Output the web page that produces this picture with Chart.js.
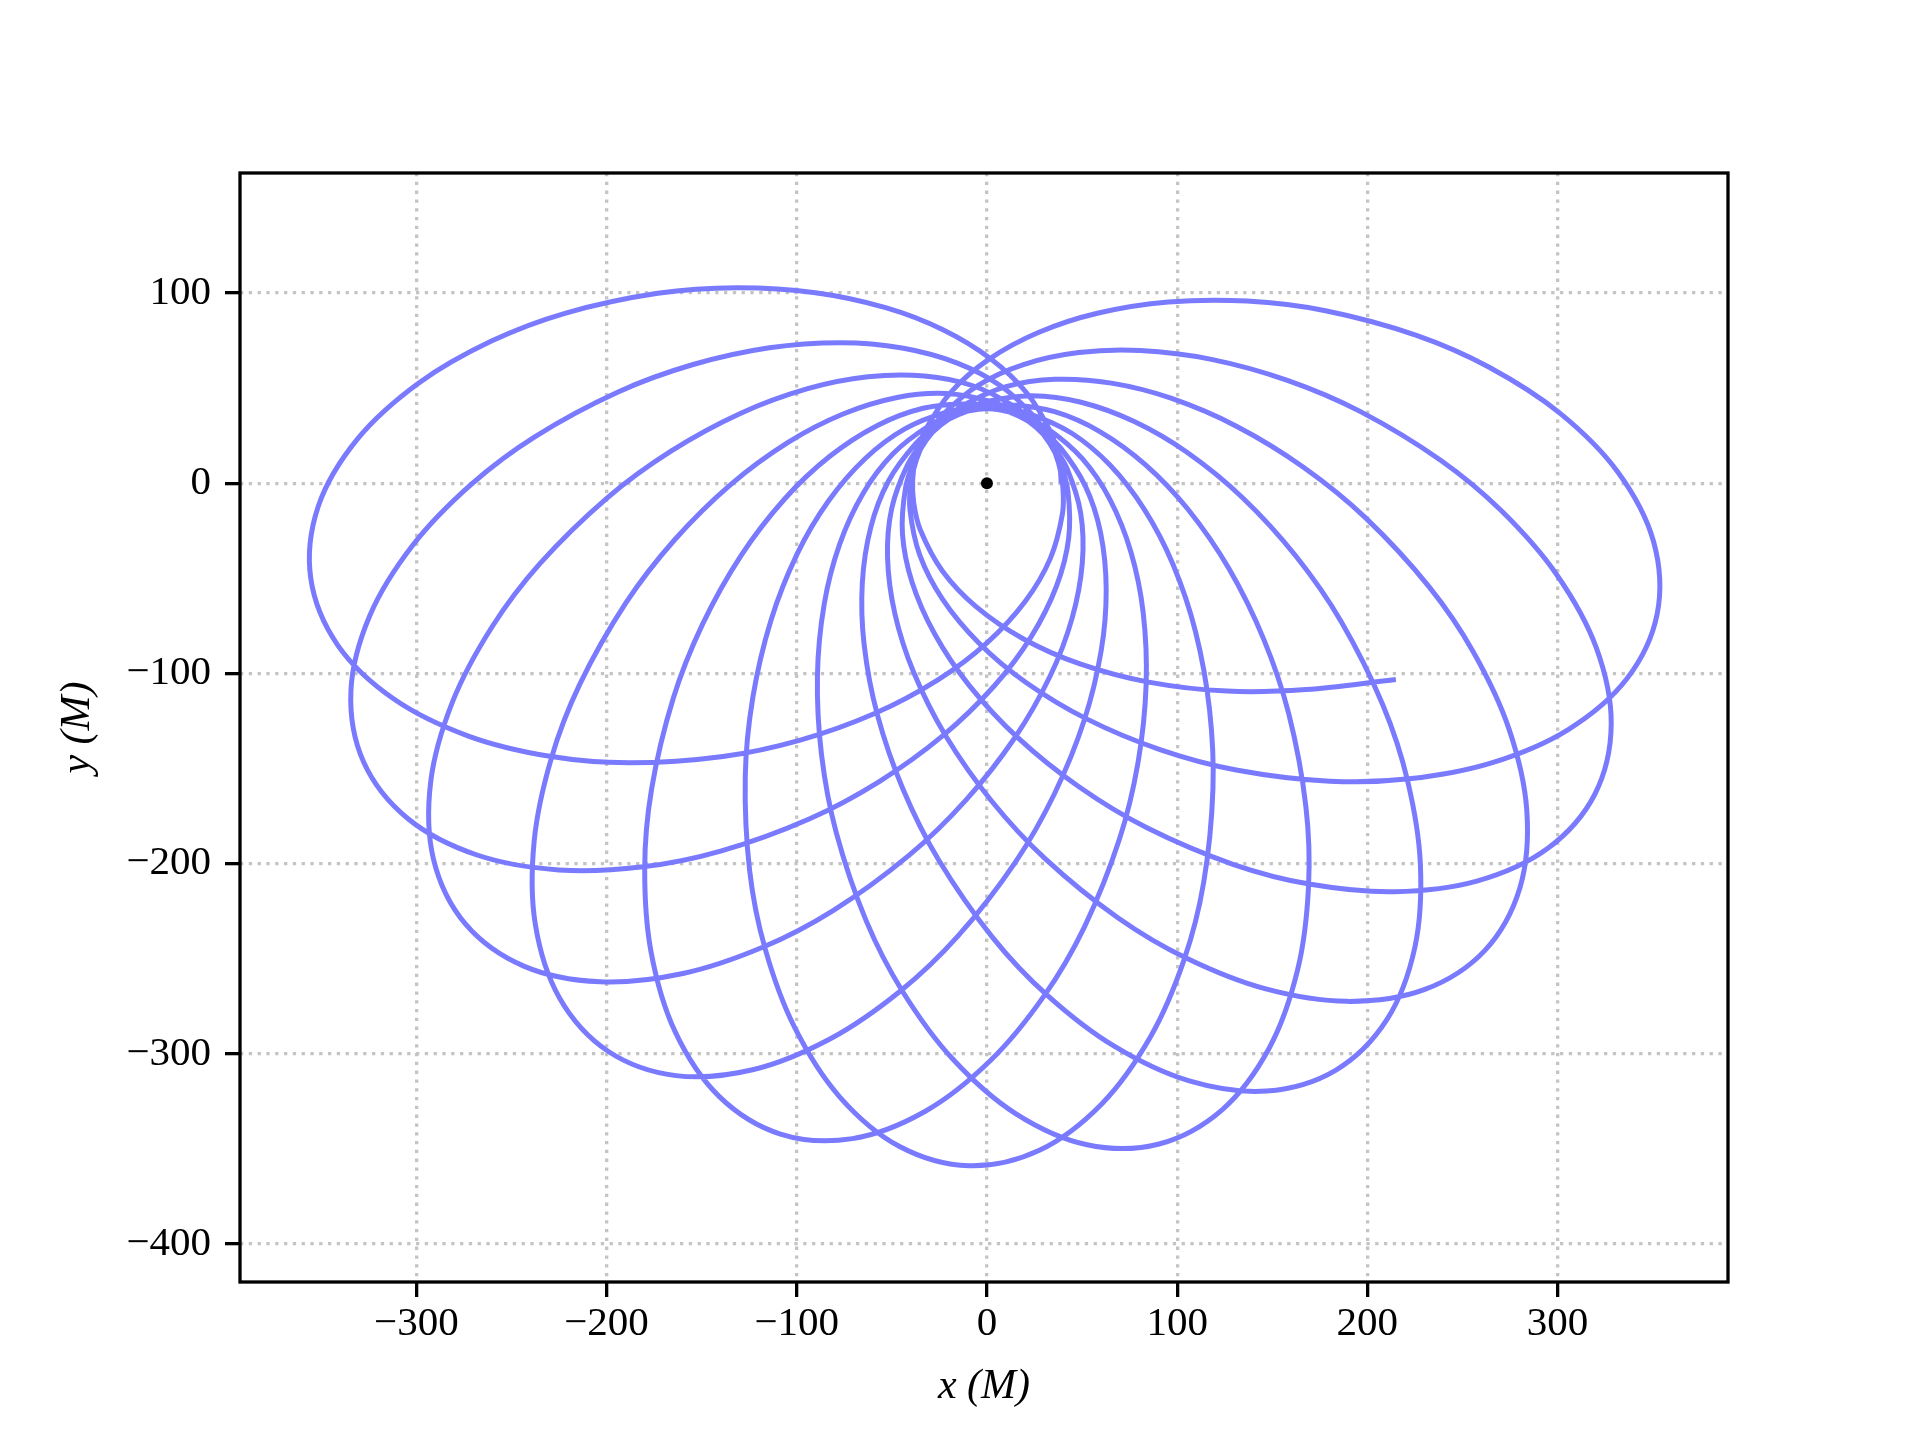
<!DOCTYPE html>
<html>
<head>
<meta charset="utf-8">
<script src="https://cdn.jsdelivr.net/npm/chart.js@4.4.1/dist/chart.umd.min.js"></script>
<style>
html, body { margin: 0; padding: 0; background: #ffffff; }
canvas { display: block; }
</style>
</head>
<body>
<canvas id="orbit" width="1920" height="1440"></canvas>
<script>
// ---- Data (units of M) ----
const xTickValues = [-300, -200, -100, 0, 100, 200, 300];
const yTickValues = [-400, -300, -200, -100, 0, 100];
const xRange = [-392.7, 389.6];
const yRange = [-420.0, 163.1];

const centreMassX = [0];
const centreMassY = [0];

const loop1X = [39.09, 37.94, 33.73, 21.05, 2.27, -23.14, -53.28, -90.18, -131.58, -173.00, -221.42, -260.50, -298.69, -330.99, -351.59, -355.51, -341.35, -311.79, -272.61, -229.82, -188.18, -138.76, -98.14, -59.08, -25.78, 0.00, 20.17, 33.27, 39.69, 39.86];
const loop1Y = [-0.03, 12.33, 26.36, 47.29, 65.23, 80.70, 92.29, 100.14, 102.80, 99.87, 89.46, 74.71, 52.67, 23.14, -12.28, -49.96, -85.10, -113.48, -132.95, -143.61, -147.02, -143.69, -135.08, -121.12, -103.41, -83.96, -62.07, -39.65, -16.04, -1.39];

const loop2X = [37.57, 33.03, 25.10, 7.11, -15.91, -44.61, -76.79, -114.41, -154.92, -193.91, -237.53, -271.00, -301.59, -324.43, -334.39, -327.71, -304.37, -268.09, -225.05, -180.98, -140.03, -93.47, -56.84, -23.17, 3.91, 23.29, 36.59, 42.97, 42.58, 38.69];
const loop2Y = [10.81, 22.37, 34.68, 51.27, 63.31, 71.12, 73.90, 71.21, 62.28, 47.98, 24.54, -0.47, -32.24, -69.55, -109.30, -146.59, -176.43, -195.49, -203.34, -201.71, -193.44, -176.54, -157.00, -132.75, -106.50, -80.66, -54.05, -28.87, -4.40, 9.71];

const loop3X = [33.10, 25.53, 14.49, -7.39, -32.84, -62.58, -94.27, -129.67, -166.12, -199.61, -235.03, -260.24, -280.82, -292.41, -290.96, -274.20, -243.50, -203.37, -159.84, -117.94, -80.89, -40.85, -11.06, 14.55, 33.29, 44.74, 50.14, 49.29, 42.13, 34.47];
const loop3Y = [20.80, 30.64, 40.28, 51.24, 56.41, 55.96, 49.70, 36.69, 16.87, -7.67, -42.29, -75.61, -114.61, -156.79, -197.75, -231.72, -253.91, -262.17, -257.77, -243.99, -224.69, -195.53, -166.61, -133.97, -101.24, -71.04, -41.79, -15.82, 7.58, 20.06];

const loop4X = [26.03, 16.02, 2.76, -21.30, -47.19, -75.65, -104.36, -134.76, -164.29, -189.66, -214.09, -229.07, -238.02, -237.47, -224.72, -199.19, -163.54, -122.69, -82.08, -45.65, -15.41, 14.98, 35.57, 51.14, 60.06, 62.69, 59.77, 51.74, 38.38, 27.56];
const loop4Y = [29.16, 36.53, 42.72, 47.18, 45.10, 36.41, 21.62, -0.71, -29.86, -62.72, -105.81, -144.81, -187.99, -231.75, -270.68, -298.68, -311.48, -308.29, -291.99, -267.13, -238.31, -199.20, -163.14, -124.69, -88.04, -55.85, -26.24, -1.54, 18.96, 28.83];

const loop5X = [16.92, 5.27, -9.20, -33.56, -57.84, -82.78, -106.26, -129.28, -149.56, -164.83, -176.35, -179.93, -176.56, -163.89, -140.84, -108.55, -70.74, -32.39, 2.12, 30.21, 51.27, 69.63, 79.42, 83.70, 82.12, 75.72, 64.70, 50.14, 31.62, 18.49];
const loop5Y = [35.24, 39.54, 41.81, 39.42, 30.24, 14.01, -8.17, -38.05, -74.24, -112.86, -161.04, -202.66, -246.63, -288.51, -322.38, -342.21, -344.62, -330.23, -303.31, -269.32, -233.24, -187.24, -146.88, -105.61, -67.93, -36.27, -8.64, 12.88, 28.87, 35.34];

const loop6X = [6.49, -5.90, -20.43, -43.17, -63.96, -83.42, -99.83, -113.65, -123.11, -127.06, -124.77, -116.67, -101.24, -77.46, -45.92, -9.40, 27.60, 60.46, 86.14, 103.71, 113.95, 118.82, 117.03, 109.71, 97.73, 82.80, 64.56, 44.61, 22.37, 7.96];
const loop6Y = [38.55, 39.45, 37.62, 28.57, 13.01, -9.50, -37.32, -72.41, -112.81, -154.14, -203.61, -244.60, -285.91, -322.63, -348.79, -358.88, -350.71, -326.25, -290.81, -250.38, -209.87, -160.58, -119.09, -78.26, -42.50, -13.86, 9.65, 26.27, 36.50, 39.09];

const loop7X = [-4.46, -16.61, -30.06, -49.39, -65.07, -77.52, -85.56, -89.12, -87.00, -79.33, -63.42, -44.26, -17.99, 15.06, 52.62, 90.50, 123.78, 148.56, 163.41, 169.08, 167.68, 158.69, 145.48, 127.12, 105.68, 83.40, 59.35, 35.57, 11.38, -3.19];
const loop7Y = [38.83, 36.26, 30.47, 15.47, -5.24, -32.26, -63.54, -101.09, -142.53, -183.33, -230.24, -267.37, -302.77, -331.47, -347.85, -347.42, -329.31, -296.69, -255.53, -211.79, -170.04, -121.33, -81.97, -44.77, -13.72, 9.66, 27.16, 37.61, 41.27, 39.76];

const loop8X = [-15.05, -26.01, -37.34, -51.75, -61.05, -65.53, -64.58, -57.59, -44.06, -25.38, 2.92, 31.62, 66.68, 106.39, 147.01, 183.29, 210.25, 225.01, 227.86, 221.18, 208.26, 186.12, 162.50, 134.53, 105.34, 77.45, 49.49, 23.75, -0.52, -14.09];
const loop8Y = [36.08, 30.24, 20.95, 1.18, -23.08, -52.49, -84.78, -121.84, -161.06, -198.14, -238.79, -269.16, -295.89, -314.29, -319.61, -308.69, -282.07, -243.85, -200.19, -156.60, -116.87, -72.56, -38.42, -7.76, 16.12, 32.41, 42.56, 46.00, 42.81, 37.32];

const loop9X = [-24.47, -33.37, -41.68, -50.05, -52.26, -48.40, -38.54, -21.55, 2.33, 30.56, 69.02, 105.01, 146.12, 189.37, 229.87, 261.70, 280.21, 283.81, 274.44, 255.93, 232.50, 198.94, 166.77, 131.41, 96.74, 65.42, 35.74, 10.05, -12.36, -23.89];
const loop9Y = [30.49, 21.84, 9.77, -13.22, -39.10, -68.61, -99.36, -133.03, -166.96, -197.40, -228.61, -249.82, -265.79, -272.45, -266.30, -245.75, -212.70, -171.89, -129.15, -89.12, -54.53, -18.10, 8.16, 29.85, 44.70, 52.61, 54.62, 50.78, 40.99, 31.94];

const loop10X = [-31.96, -38.13, -42.75, -44.42, -39.37, -27.47, -9.47, 16.20, 48.54, 84.11, 129.72, 170.17, 214.10, 257.50, 294.71, 319.59, 328.21, 320.34, 299.48, 270.61, 238.50, 196.15, 157.98, 117.98, 80.55, 48.27, 19.19, -4.42, -23.25, -31.81];
const loop10Y = [22.50, 11.72, -2.17, -26.58, -52.06, -79.33, -106.15, -133.79, -159.76, -181.19, -200.50, -210.91, -214.84, -209.26, -192.11, -163.54, -126.65, -86.44, -47.98, -14.65, 12.08, 37.77, 54.08, 65.13, 69.77, 68.69, 62.38, 51.58, 35.95, 24.06];

const loop11X = [-36.95, -39.88, -40.48, -35.31, -23.39, -4.39, 20.34, 52.66, 90.94, 131.05, 180.23, 221.99, 265.28, 305.43, 336.42, 352.41, 350.46, 331.75, 301.04, 264.05, 225.79, 177.99, 136.78, 95.30, 58.04, 27.33, 1.15, -18.55, -32.30, -37.24];
const loop11Y = [12.76, 0.69, -13.95, -37.86, -60.94, -83.84, -104.62, -124.05, -140.03, -150.76, -156.67, -155.45, -147.04, -129.64, -102.85, -68.50, -30.67, 5.78, 36.96, 60.97, 77.75, 90.68, 95.77, 95.29, 89.38, 79.38, 65.26, 48.32, 28.09, 14.30];

const loop12X = [-39.04, -38.50, -35.02, -23.42, -5.58, 19.02, 48.54, 84.99, 126.21, 167.72, 215.00];
const loop12Y = [2.01, -10.39, -24.63, -46.17, -65.04, -81.77, -94.87, -104.58, -109.32, -108.50, -103.20];

// ---- Build the dataset table from the arrays ----
const loopPairs = [
  [loop1X, loop1Y], [loop2X, loop2Y], [loop3X, loop3Y], [loop4X, loop4Y],
  [loop5X, loop5Y], [loop6X, loop6Y], [loop7X, loop7Y], [loop8X, loop8Y],
  [loop9X, loop9Y], [loop10X, loop10Y], [loop11X, loop11Y], [loop12X, loop12Y]
];
const orbitPoints = [];
loopPairs.forEach(([xs, ys]) => xs.forEach((x, i) => orbitPoints.push({ x: x, y: ys[i] })));
const centrePoints = centreMassX.map((x, i) => ({ x: x, y: centreMassY[i] }));

const fmtTick = v => (v < 0 ? '\u2212' + Math.abs(v) : String(v));
const serif = '"Liberation Serif", "Times New Roman", serif';

const framePlugin = {
  id: 'frame',
  afterDatasetsDraw(chart) {
    const { ctx, chartArea: a } = chart;
    ctx.save();
    ctx.strokeStyle = '#000000';
    ctx.lineWidth = 3.3;
    ctx.strokeRect(a.left, a.top, a.right - a.left, a.bottom - a.top);
    ctx.restore();
  }
};

const gridStyle = {
  color: '#c4c4c4',
  lineWidth: 3.3,
  tickLength: 15,
  tickColor: '#000000',
  tickWidth: 3.3,
  tickBorderDash: []
};

new Chart(document.getElementById('orbit'), {
  type: 'scatter',
  data: {
    datasets: [
      {
        label: 'orbit',
        data: orbitPoints,
        showLine: true,
        borderColor: 'rgb(122,122,255)',
        borderWidth: 5.0,
        pointRadius: 0,
        pointHoverRadius: 0,
        tension: 0.35,
        fill: false,
        order: 2
      },
      {
        label: 'centre',
        data: centrePoints,
        showLine: false,
        pointRadius: 6,
        pointBackgroundColor: '#000000',
        pointBorderWidth: 0,
        order: 1
      }
    ]
  },
  options: {
    responsive: false,
    animation: false,
    devicePixelRatio: 1,
    layout: { padding: { left: 0, right: 192, top: 173, bottom: 0 } },
    plugins: { legend: { display: false }, tooltip: { enabled: false } },
    scales: {
      x: {
        type: 'linear',
        position: 'bottom',
        min: xRange[0],
        max: xRange[1],
        afterBuildTicks: s => { s.ticks = xTickValues.map(v => ({ value: v })); },
        afterFit: s => { s.height = 158; },
        ticks: {
          autoSkip: false, maxRotation: 0, minRotation: 0, padding: 3,
          color: '#000000', font: { family: serif, size: 41 },
          callback: v => fmtTick(v)
        },
        grid: gridStyle,
        border: { display: false, dash: [3.3, 5.5] },
        title: {
          display: true, text: 'x (M)', color: '#000000',
          font: { family: serif, size: 42, style: 'italic' },
          padding: { top: 0, bottom: 28 }
        }
      },
      y: {
        type: 'linear',
        position: 'left',
        min: yRange[0],
        max: yRange[1],
        afterBuildTicks: s => { s.ticks = yTickValues.map(v => ({ value: v })); },
        afterFit: s => { s.width = 240; },
        ticks: {
          autoSkip: false, padding: 14,
          color: '#000000', font: { family: serif, size: 41 },
          callback: v => fmtTick(v)
        },
        grid: gridStyle,
        border: { display: false, dash: [3.3, 5.5] },
        title: {
          display: true, text: 'y (M)', color: '#000000',
          font: { family: serif, size: 42, style: 'italic' },
          padding: { top: 53, bottom: 0 }
        }
      }
    }
  },
  plugins: [framePlugin]
});
</script>
</body>
</html>
